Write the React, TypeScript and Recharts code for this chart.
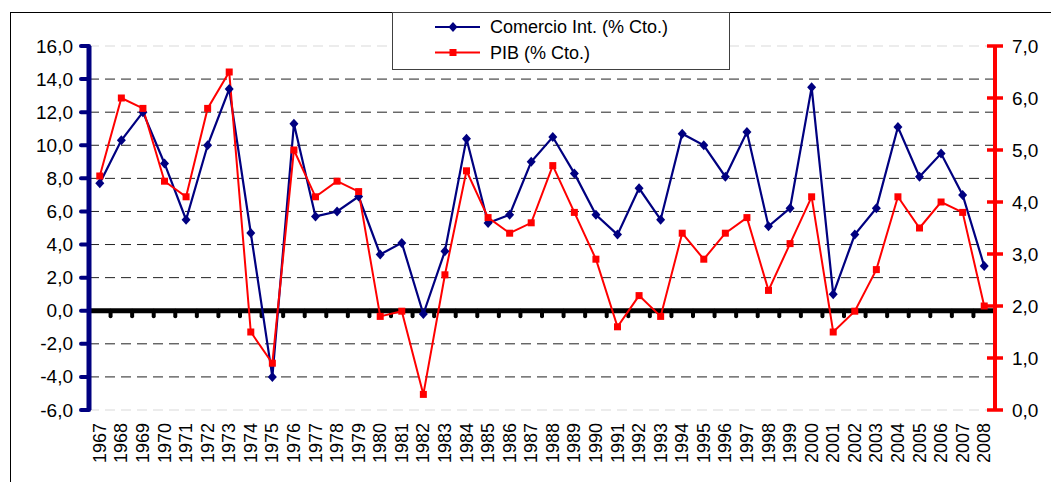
import React from "react"
import { LineChart, Line, XAxis, YAxis, ReferenceLine, Legend } from "recharts"

const YEARS = [
  1967, 1968, 1969, 1970, 1971, 1972, 1973, 1974, 1975, 1976, 1977, 1978, 1979, 1980,
  1981, 1982, 1983, 1984, 1985, 1986, 1987, 1988, 1989, 1990, 1991, 1992, 1993, 1994,
  1995, 1996, 1997, 1998, 1999, 2000, 2001, 2002, 2003, 2004, 2005, 2006, 2007, 2008,
]

// Comercio Int. (% Cto.) - left axis
const COMERCIO = [
  7.7, 10.3, 12.0, 8.9, 5.5, 10.0, 13.4, 4.7, -4.0, 11.3, 5.7, 6.0, 6.9, 3.4,
  4.1, -0.2, 3.6, 10.4, 5.3, 5.8, 9.0, 10.5, 8.3, 5.8, 4.6, 7.4, 5.5, 10.7,
  10.0, 8.1, 10.8, 5.1, 6.2, 13.5, 1.0, 4.6, 6.2, 11.1, 8.1, 9.5, 7.0, 2.7,
]

// PIB (% Cto.) - right axis
const PIB = [
  4.5, 6.0, 5.8, 4.4, 4.1, 5.8, 6.5, 1.5, 0.9, 5.0, 4.1, 4.4, 4.2, 1.8,
  1.9, 0.3, 2.6, 4.6, 3.7, 3.4, 3.6, 4.7, 3.8, 2.9, 1.6, 2.2, 1.8, 3.4,
  2.9, 3.4, 3.7, 2.3, 3.2, 4.1, 1.5, 1.9, 2.7, 4.1, 3.5, 4.0, 3.8, 2.0,
]

const LEFT_TICKS = [-6, -4, -2, 0, 2, 4, 6, 8, 10, 12, 14, 16]
const RIGHT_TICKS = [0, 1, 2, 3, 4, 5, 6, 7]
const DARK_GRID = [-4, -2, 2, 4, 6, 8, 10, 12, 14]
const LIGHT_GRID = [-6, 16]

const NAVY = "#000080"
const RED = "#FF0000"
const FONT = "'Liberation Sans', Arial, sans-serif"

const data = YEARS.map((year, i) => ({ year, comercio: COMERCIO[i], pib: PIB[i] }))
const boundaries = YEARS.map((y) => y + 0.5)

function fmt(v: number) {
  return v.toFixed(1).replace(".", ",")
}

function Diamond({ cx, cy }: any) {
  if (cx == null || cy == null) return null
  return <path d={`M${cx},${cy - 5}L${cx + 4.5},${cy}L${cx},${cy + 5}L${cx - 4.5},${cy}Z`} fill={NAVY} />
}

function Square({ cx, cy }: any) {
  if (cx == null || cy == null) return null
  return <rect x={cx - 3.5} y={cy - 3.5} width={7} height={7} fill={RED} />
}

function LeftTick({ x, y, payload }: any) {
  return (
    <g>
      <line x1={x - 8} x2={x} y1={y} y2={y} stroke={NAVY} strokeWidth={4} strokeLinecap="round" />
      <text x={x - 16} y={y} textAnchor="end" dominantBaseline="central" fontSize={19} fontFamily={FONT} fill="#000">
        {fmt(payload.value)}
      </text>
    </g>
  )
}

function RightTick({ x, y, payload }: any) {
  return (
    <g>
      <line x1={x - 8} x2={x + 8} y1={y} y2={y} stroke={RED} strokeWidth={3.5} />
      <text x={x + 17} y={y} textAnchor="start" dominantBaseline="central" fontSize={19} fontFamily={FONT} fill="#000">
        {fmt(payload.value)}
      </text>
    </g>
  )
}

function YearTick({ x, y, payload }: any) {
  return (
    <g transform={`translate(${x},${y + 13})`}>
      <text transform="rotate(-90)" textAnchor="end" dominantBaseline="central" fontSize={18} fontFamily={FONT} fill="#000">
        {payload.value}
      </text>
    </g>
  )
}

function LegendBox() {
  const rows = [
    { label: "Comercio Int. (% Cto.)", color: NAVY, marker: "diamond" },
    { label: "PIB (% Cto.)", color: RED, marker: "square" },
  ]
  return (
    <svg width={338} height={58} style={{ display: "block" }}>
      <rect x={0.5} y={0.5} width={337} height={57} fill="#fff" stroke="#404040" />
      {rows.map((r, i) => {
        const cy = 15 + i * 25.5
        return (
          <g key={r.label}>
            <line x1={43} x2={88} y1={cy} y2={cy} stroke={r.color} strokeWidth={2} />
            {r.marker === "diamond" ? <Diamond cx={61} cy={cy} /> : <Square cx={61} cy={cy} />}
            <text x={98} y={cy} dominantBaseline="central" fontSize={18} fontFamily={FONT} fill="#000">
              {r.label}
            </text>
          </g>
        )
      })}
    </svg>
  )
}

export default function App() {
  return (
    <div style={{ position: "absolute", left: 0, top: 0, width: 1051, height: 482, overflow: "hidden", background: "#fff" }}>
      <div
        style={{
          position: "absolute",
          left: 10,
          top: 12,
          width: 1200,
          height: 600,
          borderLeft: "1.5px solid #000",
          borderTop: "1.5px solid #000",
        }}
      />
      <LineChart width={1051} height={482} data={data} margin={{ top: 46, right: 0, bottom: 0, left: 0 }}>
        <XAxis
          dataKey="year"
          type="number"
          domain={[1966.5, 2008.5]}
          ticks={YEARS}
          interval={0}
          axisLine={false}
          tickLine={false}
          tickSize={0}
          tickMargin={0}
          height={72}
          tick={<YearTick />}
        />
        <YAxis
          yAxisId="left"
          orientation="left"
          domain={[-6, 16]}
          ticks={LEFT_TICKS}
          interval={0}
          width={89}
          axisLine={{ stroke: NAVY, strokeWidth: 5 }}
          tickLine={false}
          tickSize={0}
          tickMargin={0}
          tick={<LeftTick />}
        />
        <YAxis
          yAxisId="right"
          orientation="right"
          domain={[0, 7]}
          ticks={RIGHT_TICKS}
          interval={0}
          width={56}
          axisLine={{ stroke: RED, strokeWidth: 4 }}
          tickLine={false}
          tickSize={0}
          tickMargin={0}
          tick={<RightTick />}
        />
        {LIGHT_GRID.map((v) => (
          <ReferenceLine key={`l${v}`} yAxisId="left" y={v} stroke="#d9d9d9" strokeDasharray="10 6" />
        ))}
        {DARK_GRID.map((v) => (
          <ReferenceLine key={`d${v}`} yAxisId="left" y={v} stroke="#222" strokeDasharray="10 6" />
        ))}
        <ReferenceLine yAxisId="left" y={0} stroke="#000" strokeWidth={5} />
        {boundaries.map((b) => (
          <ReferenceLine
            key={`b${b}`}
            yAxisId="left"
            segment={[
              { x: b, y: 0 },
              { x: b, y: -0.33 },
            ]}
            stroke="#000"
            strokeWidth={4}
            strokeLinecap="round"
          />
        ))}
        <Line
          yAxisId="left"
          dataKey="comercio"
          stroke={NAVY}
          strokeWidth={2.2}
          dot={(p: any) => <Diamond key={`c${p.index}`} cx={p.cx} cy={p.cy} />}
          isAnimationActive={false}
        />
        <Line
          yAxisId="right"
          dataKey="pib"
          stroke={RED}
          strokeWidth={2}
          dot={(p: any) => <Square key={`p${p.index}`} cx={p.cx} cy={p.cy} />}
          isAnimationActive={false}
        />
        <Legend
          layout="vertical"
          align="center"
          verticalAlign="middle"
          wrapperStyle={{ position: "absolute", left: 392, top: 12, width: 338, height: 58 }}
          content={() => <LegendBox />}
        />
      </LineChart>
    </div>
  )
}
